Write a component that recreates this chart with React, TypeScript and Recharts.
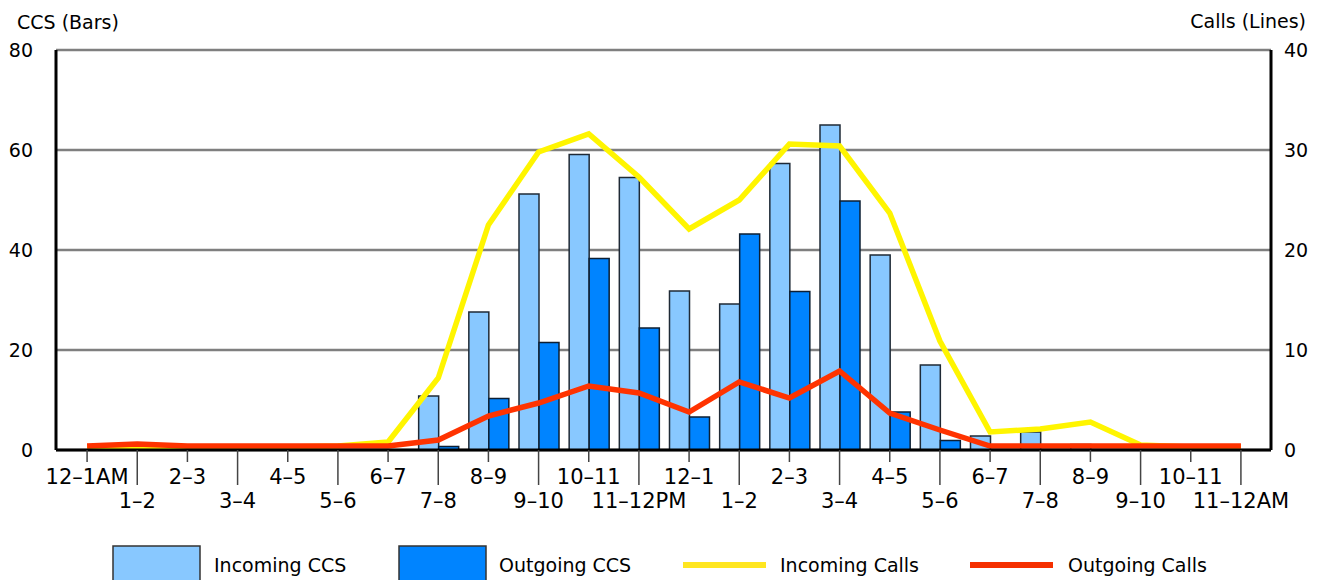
import React from "react";
import {
  ComposedChart,
  Bar,
  Line,
  XAxis,
  YAxis,
  CartesianGrid,
} from "recharts";

const hours = [
  "12–1AM", "1–2", "2–3", "3–4", "4–5", "5–6", "6–7", "7–8", "8–9", "9–10", "10–11", "11–12PM",
  "12–1", "1–2", "2–3", "3–4", "4–5", "5–6", "6–7", "7–8", "8–9", "9–10", "10–11", "11–12AM",
];

const incomingCCS = [0, 0, 0, 0, 0, 0, 0, 10.8, 27.6, 51.2, 59.1, 54.5, 31.8, 29.2, 57.3, 65, 39, 17, 2.8, 3.6, 1.1, 0, 0, 0];
const outgoingCCS = [0, 0, 0, 0, 0, 0, 0, 0.7, 10.3, 21.5, 38.3, 24.4, 6.6, 43.2, 31.7, 49.8, 7.6, 1.9, 0, 0, 0, 0, 0, 0];
const incomingCalls = [0.3, 0.3, 0.3, 0.3, 0.3, 0.4, 0.8, 7.2, 22.5, 29.8, 31.6, 27.3, 22.1, 25.0, 30.6, 30.4, 23.7, 10.9, 1.8, 2.1, 2.8, 0.5, 0.3, 0.3];
const outgoingCalls = [0.4, 0.6, 0.4, 0.4, 0.4, 0.4, 0.4, 1.0, 3.4, 4.7, 6.4, 5.7, 3.8, 6.8, 5.2, 7.9, 3.7, 2.0, 0.4, 0.4, 0.4, 0.4, 0.4, 0.4];

const leftTicks = [0, 20, 40, 60, 80];
const rightTicks = [0, 10, 20, 30, 40];

const data = hours.map((h, i) => ({
  hour: h,
  inCCS: incomingCCS[i],
  outCCS: outgoingCCS[i],
  inCalls: incomingCalls[i],
  outCalls: outgoingCalls[i],
}));

const FONT = "DejaVu Sans";

const XTick = (props: any) => {
  const { x, y, payload } = props;
  const odd = payload.index % 2 === 1;
  return (
    <g>
      <line x1={x} x2={x} y1={y} y2={y + (odd ? 35 : 12)} stroke="#444" strokeWidth={1.5} />
      <text
        x={x}
        y={y + (odd ? 57.5 : 34)}
        textAnchor="middle"
        fontSize={21}
        fontFamily={FONT}
        fill="#000"
      >
        {payload.value}
      </text>
    </g>
  );
};

export default function App() {
  return (
    <div style={{ position: "absolute", left: 0, top: 0, width: 1322, height: 580, background: "#fff" }}>
      <ComposedChart
        width={1322}
        height={580}
        data={data}
        margin={{ top: 50, right: 0, left: 0, bottom: 0 }}
        barCategoryGap={5.5}
        barGap={0}
      >
        <CartesianGrid
          yAxisId="left"
          horizontal={true}
          vertical={false}
          stroke="#7f7f7f"
          strokeWidth={2.5}
        />
        <XAxis
          dataKey="hour"
          interval={0}
          height={130}
          padding={{ left: 6, right: 5 }}
          tickLine={false}
          tickSize={0}
          tickMargin={0}
          axisLine={{ stroke: "#000", strokeWidth: 3 }}
          tick={<XTick />}
        />
        <YAxis
          yAxisId="left"
          orientation="left"
          width={56}
          domain={[0, 80]}
          ticks={leftTicks}
          tickLine={false}
          tickSize={0}
          tickMargin={23}
          axisLine={{ stroke: "#000", strokeWidth: 3 }}
          tick={{ fontSize: 19, fontFamily: FONT, fill: "#000" }}
        />
        <YAxis
          yAxisId="right"
          orientation="right"
          width={51}
          domain={[0, 40]}
          ticks={rightTicks}
          tickLine={false}
          tickSize={0}
          tickMargin={13}
          axisLine={{ stroke: "#000", strokeWidth: 3 }}
          tick={{ fontSize: 19, fontFamily: FONT, fill: "#000" }}
        />
        <Bar
          yAxisId="left"
          dataKey="inCCS"
          fill="#88C8FF"
          stroke="#1f2a36"
          strokeWidth={1.5}
          isAnimationActive={false}
        />
        <Bar
          yAxisId="left"
          dataKey="outCCS"
          fill="#0084FF"
          stroke="#0d1f33"
          strokeWidth={1.5}
          isAnimationActive={false}
        />
        <Line
          yAxisId="right"
          type="linear"
          dataKey="inCalls"
          stroke="#FFF500"
          strokeWidth={5.5}
          dot={false}
          activeDot={false}
          isAnimationActive={false}
        />
        <Line
          yAxisId="right"
          type="linear"
          dataKey="outCalls"
          stroke="#FF3300"
          strokeWidth={5.5}
          dot={false}
          activeDot={false}
          isAnimationActive={false}
        />
      </ComposedChart>
      <svg
        width={1322}
        height={580}
        style={{ position: "absolute", left: 0, top: 0, pointerEvents: "none" }}
      >
        <text x={17} y={29.3} fontSize={19} fontFamily={FONT} fill="#000">CCS (Bars)</text>
        <text x={1306} y={27.5} fontSize={19} fontFamily={FONT} fill="#000" textAnchor="end">Calls (Lines)</text>
        <rect x={113} y={546} width={87} height={40} fill="#88C8FF" stroke="#333" strokeWidth={1.5} />
        <text x={214} y={572} fontSize={19} fontFamily={FONT} fill="#000">Incoming CCS</text>
        <rect x={399} y={546} width={87} height={40} fill="#0084FF" stroke="#333" strokeWidth={1.5} />
        <text x={499} y={572} fontSize={19} fontFamily={FONT} fill="#000">Outgoing CCS</text>
        <line x1={683} x2={766} y1={565} y2={565} stroke="#FFE620" strokeWidth={6} />
        <text x={780} y={572} fontSize={19} fontFamily={FONT} fill="#000">Incoming Calls</text>
        <line x1={970} x2={1053} y1={565} y2={565} stroke="#F53000" strokeWidth={6} />
        <text x={1068} y={572} fontSize={19} fontFamily={FONT} fill="#000">Outgoing Calls</text>
      </svg>
    </div>
  );
}
